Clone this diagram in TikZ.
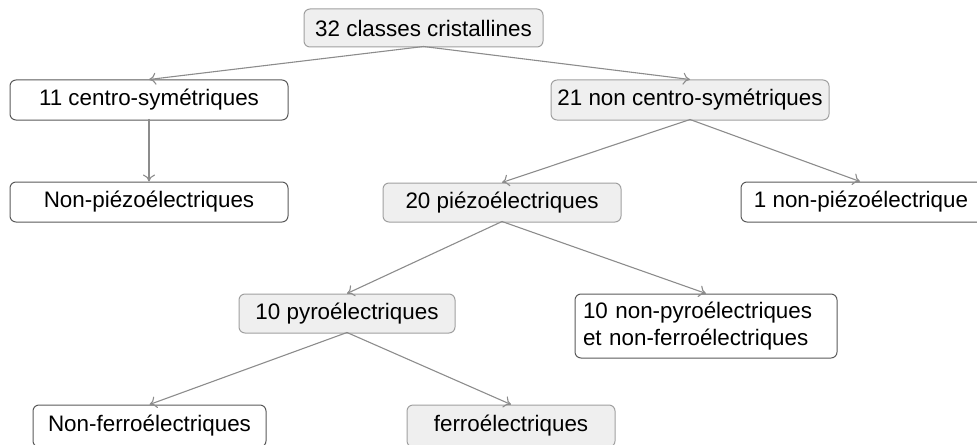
\documentclass[tikz,border=0pt]{standalone}
\usepackage{fontspec}
\setmainfont{Liberation Sans}
\usetikzlibrary{arrows.meta}
\definecolor{fondgris}{HTML}{EFEFEF}
\definecolor{bordgris}{HTML}{A0A0A0}
\definecolor{bordfonce}{HTML}{5A5A5A}
\definecolor{flechegris}{HTML}{8C8C8C}
\tikzset{
  boite/.style={draw=bordfonce,rounded corners=3pt,line width=0.5pt,fill=white,
    font=\fontsize{11.2}{13.5}\selectfont,inner sep=0pt},
  boitegrise/.style={boite,draw=bordgris,fill=fondgris},
  fleche/.style={draw=flechegris,line width=0.55pt,-{To[length=3.5pt,width=6pt]}}
}
\begin{document}
\begin{tikzpicture}[x=0.5pt,y=-0.5pt,line join=round,line cap=round]
\useasboundingbox (0,0) rectangle (977,444);
\node[boitegrise,minimum width=119.5pt,minimum height=19pt] (cl) at (423.5,28) {32 classes cristallines};
\node[boite,minimum width=139pt,minimum height=20pt] (cs) at (149,100) {11 centro-symétriques};
\node[boitegrise,minimum width=139pt,minimum height=20pt] (ncs) at (690,100) {21 non centro-symétriques};
\node[boite,minimum width=139pt,minimum height=20pt] (npz) at (149,202) {Non-piézoélectriques};
\node[boitegrise,minimum width=119pt,minimum height=19.5pt] (pz) at (502,202.5) {20 piézoélectriques};
\node[boite,minimum width=124pt,minimum height=20pt] (unpz) at (865,202) {\hspace*{-4pt}1 non-piézoélectrique};
\node[boitegrise,minimum width=108pt,minimum height=19.5pt] (py) at (347,313.5) {10 pyroélectriques};
\node[boite,text width=123pt,inner xsep=4pt,minimum height=32pt,align=left] (npy) at (706,326) {10 non-pyroélectriques\\et non-ferroélectriques};
\node[boite,minimum width=116.5pt,minimum height=21pt] (nfe) at (149.5,426) {Non-ferroélectriques};
\node[boitegrise,minimum width=104pt,minimum height=21pt] (fe) at (511,426) {ferroélectriques};
\foreach \a/\b in {cl/cs,cl/ncs,cs/npz,ncs/pz,pz/py,pz/npy,py/nfe,py/fe}{\draw[fleche] ([yshift=0.5pt]\a.south) -- (\b.north);}
\draw[fleche] ([yshift=0.5pt]ncs.south) -- ([xshift=-2.5pt]unpz.north);
\end{tikzpicture}
\end{document}
